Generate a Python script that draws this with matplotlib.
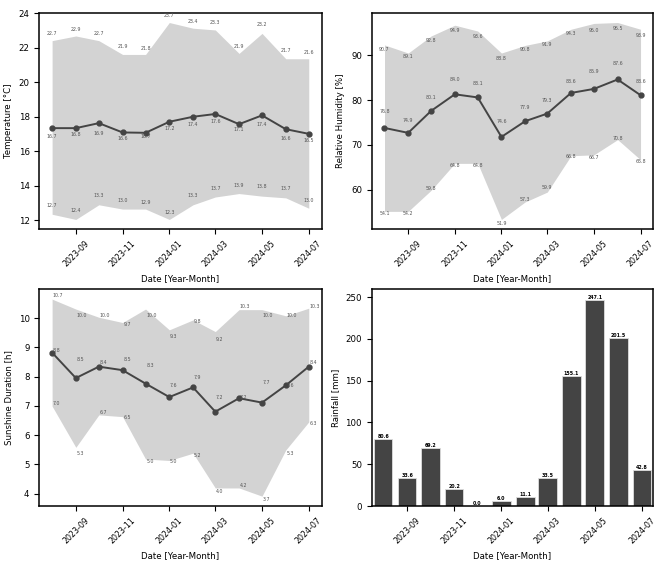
import numpy as np
import pandas as pd
from matplotlib import pyplot as plt

months = pd.date_range("2023-08-01", "2024-07-01", freq="MS")

# temperature [°C]
temp_line = [17.34, 17.34, 17.63, 17.09, 17.07, 17.71, 18.0, 18.16, 17.57, 18.08, 17.28, 17.01]
temp_hi = [22.41, 22.68, 22.41, 21.61, 21.61, 23.46, 23.13, 23.03, 21.67, 22.83, 21.36, 21.36]
temp_lo = [12.35, 12.05, 12.9, 12.65, 12.65, 12.05, 12.9, 13.35, 13.55, 13.4, 13.3, 12.7]
temp_med_lbl = [16.7, 16.8, 16.9, 16.6, 16.7, 17.2, 17.4, 17.6, 17.1, 17.4, 16.6, 16.5]
temp_max_lbl = [22.7, 22.9, 22.7, 21.9, 21.8, 23.7, 23.4, 23.3, 21.9, 23.2, 21.7, 21.6]
temp_min_lbl = [12.7, 12.4, 13.3, 13.0, 12.9, 12.3, 13.3, 13.7, 13.9, 13.8, 13.7, 13.0]

# relative humidity [%]
hum_line = [73.8, 72.7, 77.6, 81.3, 80.6, 71.8, 75.3, 77.0, 81.6, 82.5, 84.6, 81.1]
hum_hi = [92.3, 90.5, 94.3, 96.7, 95.4, 90.5, 92.2, 93.2, 95.8, 97.1, 97.3, 95.8]
hum_lo = [55.2, 55.2, 59.9, 65.9, 65.9, 53.4, 57.3, 59.5, 67.6, 67.8, 71.2, 66.7]
hum_med_lbl = [76.8, 74.9, 80.1, 84.0, 83.1, 74.6, 77.9, 79.3, 83.6, 85.9, 87.6, 83.6]
hum_max_lbl = [90.7, 89.1, 92.8, 94.9, 93.6, 88.8, 90.8, 91.9, 94.3, 95.0, 95.5, 93.9]
hum_min_lbl = [54.1, 54.2, 59.8, 64.8, 64.8, 51.9, 57.3, 59.9, 66.8, 66.7, 70.8, 65.8]

# sunshine duration [h]
sun_line = [8.82, 7.95, 8.34, 8.22, 7.76, 7.30, 7.63, 6.80, 7.26, 7.11, 7.70, 8.34]
sun_hi = [10.65, 10.31, 10.03, 9.85, 10.31, 9.6, 9.94, 9.54, 10.29, 10.29, 10.08, 10.34]
sun_lo = [6.99, 5.58, 6.69, 6.63, 5.18, 5.13, 5.38, 4.19, 4.19, 3.91, 5.49, 6.45]
sun_med_lbl = [8.8, 8.5, 8.4, 8.5, 8.3, 7.6, 7.9, 7.2, 7.2, 7.7, 7.6, 8.4]
sun_max_lbl = [10.7, 10.0, 10.0, 9.7, 10.0, 9.3, 9.8, 9.2, 10.3, 10.0, 10.0, 10.3]
sun_min_lbl = [7.0, 5.3, 6.7, 6.5, 5.0, 5.0, 5.2, 4.0, 4.2, 3.7, 5.3, 6.3]

# rainfall [mm]
rain = [80.6, 33.6, 69.2, 20.2, 0.0, 6.0, 11.1, 33.5, 155.1, 247.1, 201.5, 42.8]

plt.rcParams['font.size'] = 6.2

fig = plt.figure(figsize=(6.69, 5.66), dpi=100)
ax1 = fig.add_axes([0.0587, 0.5949, 0.422, 0.3827])
ax2 = fig.add_axes([0.5556, 0.5949, 0.421, 0.3827])
ax3 = fig.add_axes([0.0587, 0.106, 0.422, 0.3829])
ax4 = fig.add_axes([0.5556, 0.106, 0.421, 0.3829])


def band_panel(ax, line, hi, lo, med_lbl, max_lbl, min_lbl, ylabel, ha='center'):
    ax.fill_between(months, lo, hi, color='#d3d3d3', linewidth=0)
    ax.plot(months, line, color='#444444', marker='o', markersize=3.5, linewidth=1.4)
    dx = pd.Timedelta(days=1) if ha == 'left' else pd.Timedelta(0)
    for i, m in enumerate(months):
        for v in (med_lbl[i], max_lbl[i], min_lbl[i]):
            ax.text(m + dx, v, f"{v:.1f}", fontsize=3.4, color='#555555',
                    ha=ha, va='bottom')
    ax.set_ylabel(ylabel)
    ax.set_xlabel("Date [Year-Month]")


band_panel(ax1, temp_line, temp_hi, temp_lo, temp_med_lbl, temp_max_lbl, temp_min_lbl,
           "Temperature [°C]")
band_panel(ax2, hum_line, hum_hi, hum_lo, hum_med_lbl, hum_max_lbl, hum_min_lbl,
           "Relative Humidity [%]")
band_panel(ax3, sun_line, sun_hi, sun_lo, sun_med_lbl, sun_max_lbl, sun_min_lbl,
           "Sunshine Duration [h]", ha='left')

bars = ax4.bar(months, rain, width=24, color='#444444', edgecolor='#dddddd', linewidth=0.6)
for b, v in zip(bars, rain):
    ax4.text(b.get_x() + b.get_width() / 2, v, f"{v:.1f}", fontsize=3.4,
             ha='center', va='bottom', color='black', fontweight='bold')
ax4.set_ylabel("Rainfall [mm]")
ax4.set_xlabel("Date [Year-Month]")
ax4.margins(x=0.008)

tick_dates = pd.date_range("2023-09-01", "2024-07-01", freq="2MS")
for ax in (ax1, ax2, ax3, ax4):
    ax.set_xticks(tick_dates)
    ax.set_xticklabels([d.strftime("%Y-%m") for d in tick_dates], rotation=45, fontsize=5.7)
    for s in ax.spines.values():
        s.set_linewidth(1.1)

fig.savefig("out.png", dpi=100)
